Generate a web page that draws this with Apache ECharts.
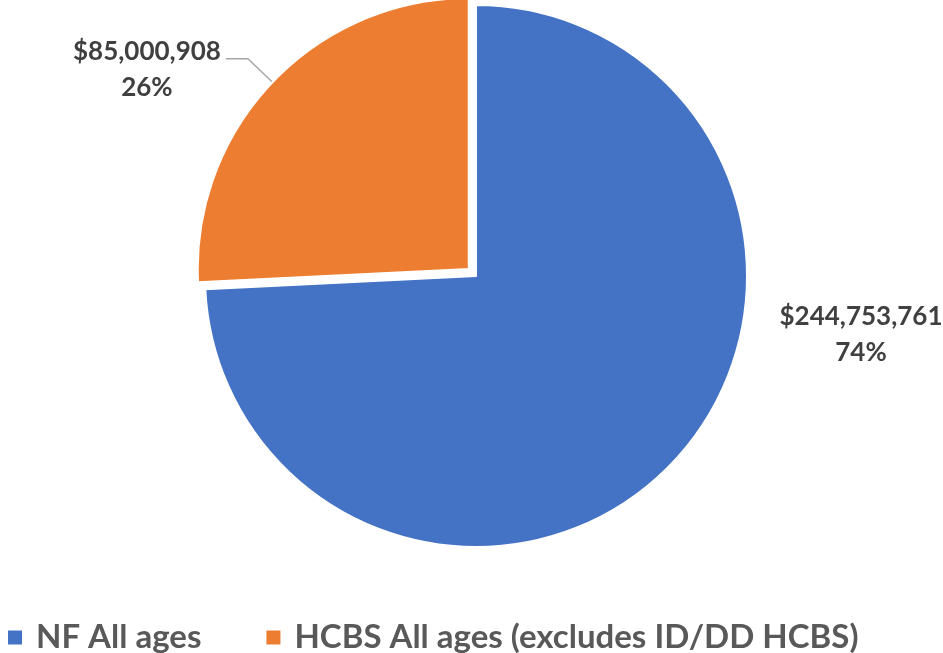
<!DOCTYPE html>
<html>
<head>
<meta charset="utf-8">
<script src="https://cdn.jsdelivr.net/npm/echarts@6/dist/echarts.min.js"></script>
<style>
  html, body { margin: 0; padding: 0; background: #fff; }
  #main { width: 943px; height: 653px; }
</style>
</head>
<body>
<div id="main"></div>
<script>
// data
const categories = ["NF All ages", "HCBS All ages (excludes ID/DD HCBS)"];
const amounts = [244753761, 85000908];
const percents = ["74%", "26%"];
const colors = ["#4472C4", "#ED7D31"];

const myChart = echarts.init(document.getElementById("main"));

const fmt = v => "$" + v.toLocaleString("en-US");

const option = {
  backgroundColor: "#fff",
  animation: false,
  legend: {
    top: 616,
    left: 1,
    icon: "rect",
    itemWidth: 16,
    itemHeight: 16,
    itemGap: 63,
    data: categories,
    textStyle: {
      color: "#595959",
      fontSize: 33,
      fontWeight: "bold",
      fontFamily: "Lato",
      padding: [0, 0, 0, 8]
    }
  },
  series: [
    {
      type: "pie",
      center: [476, 276],
      radius: 271,
      startAngle: 90,
      selectedMode: "single",
      selectedOffset: 10,
      itemStyle: { borderColor: "#fff", borderWidth: 2 },
      label: {
        show: true,
        formatter: p => "{a|" + fmt(p.value) + "}\n{a|" + percents[p.dataIndex] + "}",
        color: "#404040",
        fontSize: 26,
        fontWeight: "bold",
        fontFamily: "Lato",
        lineHeight: 36,
        rich: {
          a: {
            align: "center",
            color: "#404040",
            fontSize: 26,
            fontWeight: "bold",
            fontFamily: "Lato",
            lineHeight: 36
          }
        }
      },
      labelLine: {
        show: true,
        lineStyle: { color: "#a6a6a6", width: 1.5 }
      },
      labelLayout: p => {
        if (p.dataIndex === 0) {
          return { x: 861, y: 335, align: "center", verticalAlign: "middle" };
        }
        return {};
      },
      data: categories.map((c, i) => ({
        name: c,
        value: amounts[i],
        selected: i === 1,
        itemStyle: { color: colors[i] },
        label: i === 1 ? { padding: [22, 0, 0, 0] } : {},
        labelLine: { show: i === 1, length: 34, length2: 22 }
      }))
    }
  ]
};

myChart.setOption(option);
</script>
</body>
</html>
